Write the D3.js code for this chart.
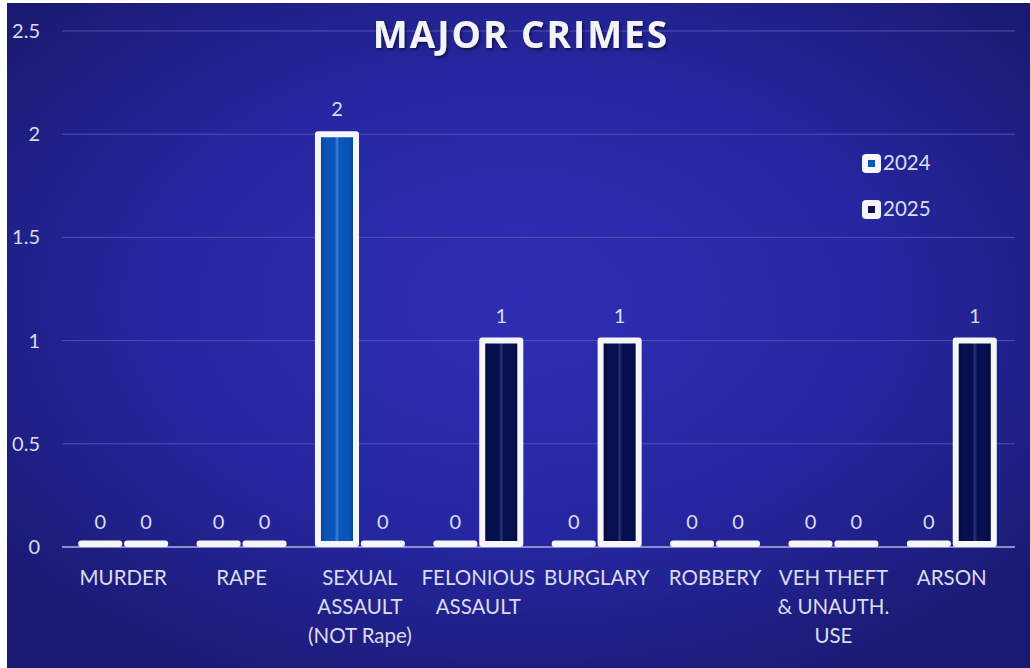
<!DOCTYPE html>
<html>
<head>
<meta charset="utf-8">
<script src="https://cdn.jsdelivr.net/npm/d3@7"></script>
<style>
  body { margin: 0; background: #fff; }
  svg { display: block; }
</style>
</head>
<body>
<script>
const width = 1030;
const height = 668;

// data
const categories = [
    ["MURDER"],
    ["RAPE"],
    ["SEXUAL", "ASSAULT", "(NOT Rape)"],
    ["FELONIOUS", "ASSAULT"],
    ["BURGLARY"],
    ["ROBBERY"],
    ["VEH THEFT", "& UNAUTH.", "USE"],
    ["ARSON"],
];
const series = ["2024", "2025"];
const values2024 = [0, 0, 2, 0, 0, 0, 0, 0];
const values2025 = [0, 0, 0, 1, 1, 0, 0, 1];
const yTicks = [0, 0.5, 1, 1.5, 2, 2.5];

const textColour = "#dcdcec";
const labelFont = "Lato, 'Open Sans', sans-serif";

const svg = d3.select("body").append("svg")
    .attr("width", width)
    .attr("height", height);

const defs = svg.append("defs");

// background glow
const bg = defs.append("radialGradient")
    .attr("id", "bg")
    .attr("cx", "50%").attr("cy", "45%").attr("r", "65%");
bg.append("stop").attr("offset", "0%").attr("stop-color", "#2e2eb4");
bg.append("stop").attr("offset", "55%").attr("stop-color", "#2626a0");
bg.append("stop").attr("offset", "100%").attr("stop-color", "#1a1a72");

function barGradient(id, edge, mid, stripe) {
    const g = defs.append("linearGradient").attr("id", id)
        .attr("x1", "0%").attr("x2", "100%").attr("y1", "0%").attr("y2", "0%");
    [[0, edge], [0.2, mid], [0.44, mid], [0.5, stripe], [0.56, mid], [0.8, mid], [1, edge]]
        .forEach(([o, c]) => g.append("stop").attr("offset", o * 100 + "%").attr("stop-color", c));
}
barGradient("g2024", "#073a8e", "#0a56b8", "#3d84d6");
barGradient("g2025", "#020830", "#06104e", "#28367a");
const fills = { "2024": "url(#g2024)", "2025": "url(#g2025)" };
const swatch = { "2024": "#0a56b8", "2025": "#0a1450" };

const shadow = defs.append("filter").attr("id", "shadow")
    .attr("x", "-10%").attr("y", "-30%").attr("width", "120%").attr("height", "160%");
shadow.append("feDropShadow").attr("dx", 1.5).attr("dy", 2).attr("stdDeviation", 1.5)
    .attr("flood-color", "#000").attr("flood-opacity", 0.55);

svg.append("rect").attr("width", width).attr("height", height).attr("fill", "#fff");
svg.append("rect").attr("x", 7).attr("y", 3)
    .attr("width", width - 7).attr("height", height - 3)
    .attr("fill", "url(#bg)");

// scales
const x = d3.scaleBand()
    .domain(d3.range(categories.length))
    .range([64, 1011])
    .paddingInner(0.24)
    .paddingOuter(0.12);

const x1 = d3.scaleBand()
    .domain(series)
    .range([0, x.bandwidth()])
    .paddingInner(0.04);

const y = d3.scaleLinear().domain([0, 2.5]).range([547, 31]);

// gridlines
svg.append("g")
    .selectAll("line")
    .data(yTicks)
    .join("line")
    .attr("x1", 62).attr("x2", 1015)
    .attr("y1", d => y(d)).attr("y2", d => y(d))
    .attr("stroke", d => d === 0 ? "#8c8cc8" : "#5050b8")
    .attr("stroke-width", d => d === 0 ? 2 : 1);

// y tick labels
svg.append("g")
    .selectAll("text")
    .data(yTicks)
    .join("text")
    .attr("x", 40)
    .attr("y", d => y(d))
    .attr("dy", "0.35em")
    .attr("text-anchor", "end")
    .attr("font-family", labelFont)
    .attr("font-size", 20)
    .attr("fill", textColour)
    .text(d => d);

// bars
const rows = [];
categories.forEach((c, i) => {
    rows.push({ i, s: "2024", v: values2024[i] });
    rows.push({ i, s: "2025", v: values2025[i] });
});

const sw = 6;
svg.append("g")
    .selectAll("rect")
    .data(rows)
    .join("rect")
    .attr("x", d => x(d.i) + x1(d.s) + sw / 2)
    .attr("width", x1.bandwidth() - sw)
    .attr("y", d => Math.min(y(d.v), y(0) - sw / 2 - 0.5))
    .attr("height", d => Math.max(0.5, y(0) - sw / 2 - y(d.v)))
    .attr("fill", d => fills[d.s])
    .attr("stroke", "#f6f6fa")
    .attr("stroke-width", sw)
    .attr("stroke-linejoin", "round");

// value labels
svg.append("g")
    .selectAll("text")
    .data(rows)
    .join("text")
    .attr("x", d => x(d.i) + x1(d.s) + x1.bandwidth() / 2)
    .attr("y", d => y(d.v) - 25)
    .attr("dy", "0.35em")
    .attr("text-anchor", "middle")
    .attr("font-family", labelFont)
    .attr("font-size", 20)
    .attr("fill", textColour)
    .text(d => d.v);

// category labels
const catLabels = svg.append("g")
    .selectAll("text")
    .data(categories)
    .join("text")
    .attr("x", (d, i) => x(i) + x.bandwidth() / 2)
    .attr("y", 578)
    .attr("text-anchor", "middle")
    .attr("font-family", labelFont)
    .attr("font-size", 20.5)
    .attr("fill", textColour);
catLabels.selectAll("tspan")
    .data(d => d)
    .join("tspan")
    .attr("x", function () { return d3.select(this.parentNode).attr("x"); })
    .attr("dy", (d, i) => i === 0 ? "0.35em" : 29)
    .text(d => d);

// legend
const legend = svg.append("g").attr("transform", "translate(862, 163)");
const items = legend.selectAll("g")
    .data(series)
    .join("g")
    .attr("transform", (d, i) => `translate(0, ${i * 46})`);
items.append("rect")
    .attr("x", 0).attr("y", -9)
    .attr("width", 19).attr("height", 19)
    .attr("rx", 4)
    .attr("fill", "#f6f6fa");
items.append("rect")
    .attr("x", 6).attr("y", -3)
    .attr("width", 7).attr("height", 7)
    .attr("fill", d => swatch[d]);
items.append("text")
    .attr("x", 21)
    .attr("y", 0)
    .attr("dy", "0.35em")
    .attr("font-family", labelFont)
    .attr("font-size", 20.5)
    .attr("fill", textColour)
    .text(d => d);

// title
svg.append("text")
    .attr("x", 521)
    .attr("y", 48)
    .attr("text-anchor", "middle")
    .attr("font-family", "'Open Sans', sans-serif")
    .attr("font-weight", "bold")
    .attr("font-size", 37)
    .attr("letter-spacing", 2)
    .attr("fill", "#f4f4f8")
    .attr("filter", "url(#shadow)")
    .text("MAJOR CRIMES");
</script>
</body>
</html>
